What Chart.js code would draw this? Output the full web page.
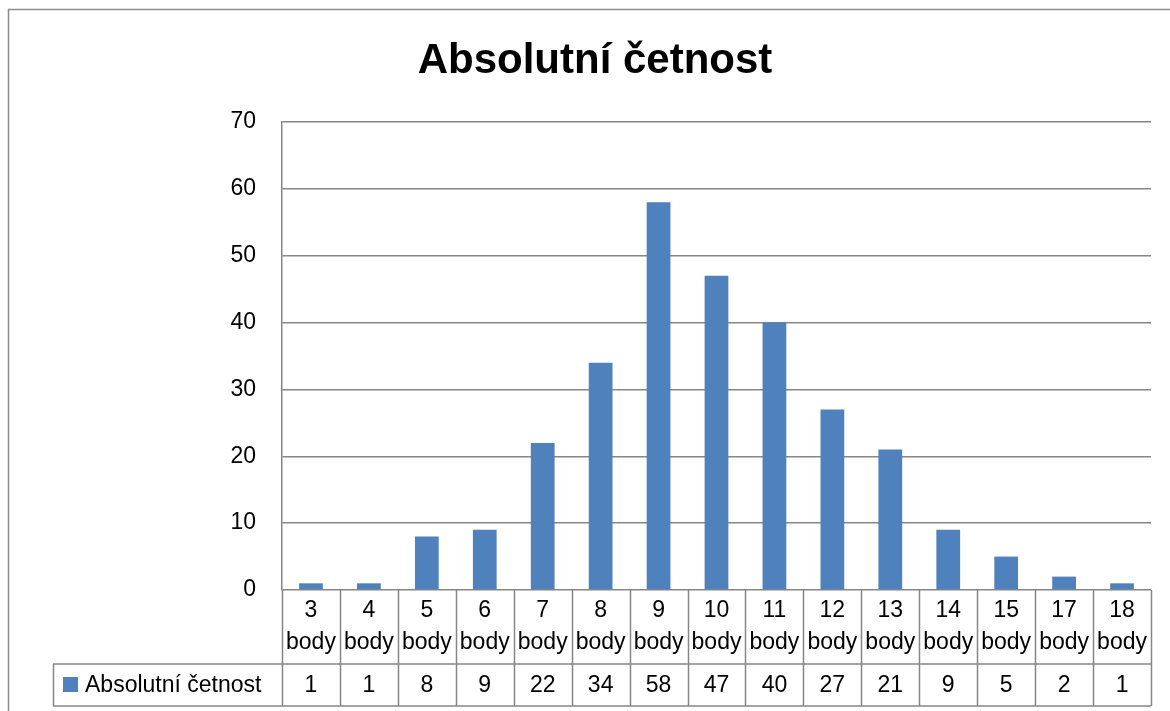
<!DOCTYPE html>
<html>
<head>
<meta charset="utf-8">
<script src="https://cdn.jsdelivr.net/npm/chart.js@4"></script>
<style>
  html, body { margin: 0; padding: 0; background: #fff; }
  #wrap { width: 1170px; height: 711px; }
</style>
</head>
<body>
<div id="wrap"><canvas id="myChart" width="1170" height="711"></canvas></div>
<script>
/* data */
const categories = ["3", "4", "5", "6", "7", "8", "9", "10", "11", "12", "13", "14", "15", "17", "18"];
const unitLabel = "body";
const values = [1, 1, 8, 9, 22, 34, 58, 47, 40, 27, 21, 9, 5, 2, 1];
const seriesName = "Absolutní četnost";
const chartTitle = "Absolutní četnost";

const barColor = "#4F81BD";
const lineColor = "#868686";
const fontName = "'Liberation Sans', Arial, sans-serif";

// title, outer frame and the data table under the plot
const tablePlugin = {
  id: "dataTable",
  afterDraw(chart) {
    const ctx = chart.ctx;
    const area = chart.chartArea;
    const x = chart.scales.x;
    const step = (area.right - area.left) / categories.length;
    const rowTop = area.bottom;
    const rowMid = 664;
    const rowBot = 706;
    const legendLeft = 53;

    ctx.save();
    // outer frame of the chart (runs off the right and bottom)
    ctx.strokeStyle = "#8c8c8c";
    ctx.lineWidth = 1.5;
    ctx.beginPath();
    ctx.moveTo(8.5, 760);
    ctx.lineTo(8.5, 9.5);
    ctx.lineTo(1200, 9.5);
    ctx.stroke();

    // title
    ctx.fillStyle = "#000";
    ctx.font = "bold 42px " + fontName;
    ctx.textAlign = "center";
    ctx.textBaseline = "middle";
    ctx.fillText(chartTitle, 595, 61);

    // table lines
    ctx.strokeStyle = lineColor;
    ctx.lineWidth = 1.5;
    ctx.beginPath();
    for (let i = 0; i <= categories.length; i++) {
      const px = Math.round(area.left + i * step) + 0.5;
      ctx.moveTo(px, rowTop);
      ctx.lineTo(px, rowBot);
    }
    ctx.moveTo(legendLeft, rowMid);
    ctx.lineTo(area.right, rowMid);
    ctx.moveTo(legendLeft, rowBot);
    ctx.lineTo(area.right, rowBot);
    ctx.moveTo(legendLeft + 0.5, rowMid);
    ctx.lineTo(legendLeft + 0.5, rowBot);
    ctx.stroke();

    // category labels and values
    ctx.fillStyle = "#000";
    ctx.font = "23px " + fontName;
    ctx.textAlign = "center";
    categories.forEach((c, i) => {
      const cx = x.getPixelForValue(i);
      ctx.fillText(c, cx, 611);
      ctx.fillText(unitLabel, cx, 643);
      ctx.fillText(String(values[i]), cx, 686);
    });

    // legend key
    ctx.fillStyle = barColor;
    ctx.fillRect(63, 677, 15, 15);
    ctx.fillStyle = "#000";
    ctx.textAlign = "left";
    ctx.fillText(seriesName, 85, 686);
    ctx.restore();
  }
};

const ctx1 = document.getElementById("myChart").getContext("2d");

const data1 = {
  labels: categories.map((c) => c + " " + unitLabel),
  datasets: [
    {
      label: seriesName,
      data: values,
      backgroundColor: barColor,
      barPercentage: 0.41,
      categoryPercentage: 1.0,
    },
  ],
};

const config1 = {
  type: "bar",
  data: data1,
  plugins: [tablePlugin],
  options: {
    responsive: false,
    animation: false,
    layout: {
      padding: { top: 122, bottom: 121, left: 0, right: 19 },
    },
    plugins: {
      legend: { display: false },
      title: { display: false },
      tooltip: { enabled: false },
    },
    scales: {
      x: {
        display: false,
      },
      y: {
        min: 0,
        max: 70,
        ticks: {
          stepSize: 10,
          padding: 26,
          color: "#000",
          font: { family: fontName, size: 23 },
        },
        grid: {
          color: lineColor,
          lineWidth: 1.5,
          drawTicks: false,
        },
        border: { color: lineColor, width: 1.5 },
        afterFit(scale) {
          scale.width = 282;
        },
      },
    },
  },
};

const myChart1 = new Chart(ctx1, config1);
</script>
</body>
</html>
